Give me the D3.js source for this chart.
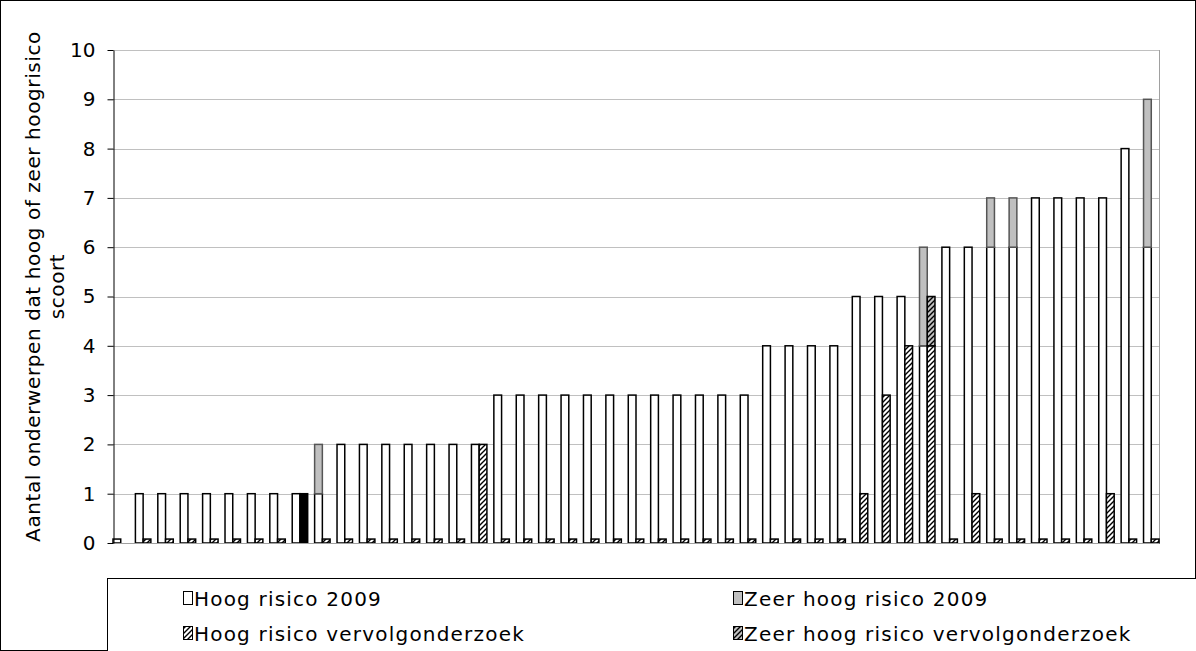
<!DOCTYPE html>
<html>
<head>
<meta charset="utf-8">
<script src="https://cdn.jsdelivr.net/npm/d3@7"></script>
<style>
  body { margin: 0; background: #fff; }
  svg { display: block; font-family: "DejaVu Sans", Verdana, sans-serif; }
</style>
</head>
<body>
<svg width="1196" height="651"></svg>
<script>
// one entry per onderwerp-groep (47 groups, no x labels in the source)
var categories = d3.range(1, 48);

var hoog2009 = [0.08, 1, 1, 1, 1, 1, 1, 1, 1, 1,
	2, 2, 2, 2, 2, 2, 2,
	3, 3, 3, 3, 3, 3, 3, 3, 3, 3, 3, 3,
	4, 4, 4, 4,
	5, 5, 5, 4, 6, 6, 6, 6,
	7, 7, 7, 7, 8, 6];
var zeerHoog2009 = [0, 0, 0, 0, 0, 0, 0, 0, 0, 1,
	0, 0, 0, 0, 0, 0, 0,
	0, 0, 0, 0, 0, 0, 0, 0, 0, 0, 0, 0,
	0, 0, 0, 0,
	0, 0, 0, 2, 0, 0, 1, 1,
	0, 0, 0, 0, 0, 3];
var hoogVervolg = [0, 0.08, 0.08, 0.08, 0.08, 0.08, 0.08, 0.08, 0, 0.08,
	0.08, 0.08, 0.08, 0.08, 0.08, 0.08, 2,
	0.08, 0.08, 0.08, 0.08, 0.08, 0.08, 0.08, 0.08, 0.08, 0.08, 0.08, 0.08,
	0.08, 0.08, 0.08, 0.08,
	1, 3, 4, 4, 0.08, 1, 0.08, 0.08,
	0.08, 0.08, 0.08, 1, 0.08, 0.08];
var zeerHoogVervolg = [0, 0, 0, 0, 0, 0, 0, 0, 0, 0,
	0, 0, 0, 0, 0, 0, 0,
	0, 0, 0, 0, 0, 0, 0, 0, 0, 0, 0, 0,
	0, 0, 0, 0,
	0, 0, 0, 1, 0, 0, 0, 0,
	0, 0, 0, 0, 0, 0];
// the one solid black bar (group 9) has no legend entry
var zwartVervolg = [0, 0, 0, 0, 0, 0, 0, 0, 1, 0,
	0, 0, 0, 0, 0, 0, 0,
	0, 0, 0, 0, 0, 0, 0, 0, 0, 0, 0, 0,
	0, 0, 0, 0,
	0, 0, 0, 0, 0, 0, 0, 0,
	0, 0, 0, 0, 0, 0];

var yTicks = [0, 1, 2, 3, 4, 5, 6, 7, 8, 9, 10];
var yTitle = ["Aantal onderwerpen dat hoog of zeer hoogrisico", "scoort"];
var legendItems = [
	{label: "Hoog risico 2009", fill: "#fff"},
	{label: "Zeer hoog risico 2009", fill: "#c0c0c0"},
	{label: "Hoog risico vervolgonderzoek", fill: "url(#hatch)"},
	{label: "Zeer hoog risico vervolgonderzoek", fill: "url(#hatchGray)"}
];

var svg = d3.select("svg"),
    width = +svg.attr("width"),
    height = +svg.attr("height");

var plotLeft = 113, plotRight = 1159, plotTop = 50, plotBottom = 543;

// patterns
var defs = svg.append("defs");
function hatch(id, bg) {
	var p = defs.append("pattern")
		.attr("id", id)
		.attr("patternUnits", "userSpaceOnUse")
		.attr("width", 5)
		.attr("height", 5);
	p.append("rect").attr("width", 5).attr("height", 5).attr("fill", bg);
	p.append("path")
		.attr("d", "M0,5 L5,0 M-1,1 L1,-1 M4,6 L6,4")
		.attr("stroke", "#000")
		.attr("stroke-width", 1.4);
}
hatch("hatch", "#fff");
hatch("hatchGray", "#c0c0c0");

// outer border
svg.append("rect")
	.attr("x", 0.5).attr("y", 0.5)
	.attr("width", width - 1).attr("height", height - 1)
	.attr("fill", "none")
	.attr("stroke", "#000");

var x = d3.scaleBand()
	.domain(categories)
	.range([plotLeft, plotRight])
	.paddingInner(0.31)
	.paddingOuter(0);

var xSub = d3.scaleBand()
	.domain(["2009", "vervolg"])
	.range([0, x.bandwidth()]);

var y = d3.scaleLinear()
	.domain([0, 10])
	.range([plotBottom, plotTop]);

// gridlines
svg.append("g")
	.selectAll("line")
	.data(yTicks.filter(function(d) { return d > 0; }))
	.enter().append("line")
	.attr("x1", plotLeft).attr("x2", plotRight)
	.attr("y1", function(d) { return Math.round(y(d)) + 0.5; })
	.attr("y2", function(d) { return Math.round(y(d)) + 0.5; })
	.attr("stroke", "#c0c0c0");

// right edge of plot area
svg.append("line")
	.attr("x1", plotRight + 0.5).attr("x2", plotRight + 0.5)
	.attr("y1", plotTop).attr("y2", plotBottom)
	.attr("stroke", "#a0a0a0");

// build stacked segments
var segments = [];
categories.forEach(function(c, i) {
	var h = hoog2009[i], z = zeerHoog2009[i];
	if (h > 0) segments.push({c: c, g: "2009", y0: 0, y1: h, fill: "#fff", stroke: "#000"});
	if (z > 0) segments.push({c: c, g: "2009", y0: h, y1: h + z, fill: "#c0c0c0", stroke: "#555"});
	var hv = hoogVervolg[i], zv = zeerHoogVervolg[i], bv = zwartVervolg[i];
	if (hv > 0) segments.push({c: c, g: "vervolg", y0: 0, y1: hv, fill: "url(#hatch)", stroke: "#000"});
	if (zv > 0) segments.push({c: c, g: "vervolg", y0: hv, y1: hv + zv, fill: "url(#hatchGray)", stroke: "#000"});
	if (bv > 0) segments.push({c: c, g: "vervolg", y0: hv + zv, y1: hv + zv + bv, fill: "#000", stroke: "#000"});
});

svg.append("g")
	.attr("class", "bars")
	.selectAll("rect")
	.data(segments)
	.enter().append("rect")
	.attr("x", function(d) { return x(d.c) + xSub(d.g); })
	.attr("width", xSub.bandwidth())
	.attr("y", function(d) { return y(d.y1); })
	.attr("height", function(d) { return y(d.y0) - y(d.y1); })
	.attr("fill", function(d) { return d.fill; })
	.attr("stroke", function(d) { return d.stroke; })
	.attr("stroke-width", 1.5);

// x baseline
svg.append("line")
	.attr("x1", plotLeft).attr("x2", plotRight)
	.attr("y1", plotBottom + 0.5).attr("y2", plotBottom + 0.5)
	.attr("stroke", "#a0a0a0");

// y axis
var yAxis = svg.append("g")
	.attr("transform", "translate(" + (plotLeft + 0.5) + ",0)")
	.call(d3.axisLeft(y).tickValues(yTicks).tickSize(6).tickPadding(12).tickSizeOuter(0));
yAxis.select(".domain").attr("stroke", "#000");
yAxis.selectAll(".tick line").attr("stroke", "#000");
yAxis.selectAll(".tick text")
	.attr("font-size", 20)
	.attr("font-family", "DejaVu Sans, Verdana, sans-serif")
	.attr("fill", "#000");

// y title
var titleText = svg.append("text")
	.attr("transform", "translate(40," + ((plotTop + plotBottom) / 2 - 10) + ") rotate(-90)")
	.attr("text-anchor", "middle")
	.attr("font-size", 20)
	.attr("letter-spacing", 0.6)
	.attr("fill", "#000");
titleText.selectAll("tspan")
	.data(yTitle)
	.enter().append("tspan")
	.attr("x", 0)
	.attr("dy", function(d, i) { return i === 0 ? 0 : 24; })
	.text(function(d) { return d; });

// legend
svg.append("rect")
	.attr("x", 107.5).attr("y", 578.5)
	.attr("width", 1200).attr("height", 100)
	.attr("fill", "#fff")
	.attr("stroke", "#000");

var legend = svg.append("g")
	.selectAll("g")
	.data(legendItems)
	.enter().append("g")
	.attr("transform", function(d, i) {
		return "translate(" + (i % 2 === 0 ? 183 : 733) + "," + (i < 2 ? 599 : 634) + ")";
	});
legend.append("rect")
	.attr("x", 0.5).attr("y", -7.5)
	.attr("width", 9).attr("height", 13)
	.attr("fill", function(d) { return d.fill; })
	.attr("stroke", "#000");
legend.append("text")
	.attr("x", 11)
	.attr("y", 7)
	.attr("font-size", 20)
	.attr("letter-spacing", 1.2)
	.attr("fill", "#000")
	.text(function(d) { return d.label; });
</script>
</body>
</html>
